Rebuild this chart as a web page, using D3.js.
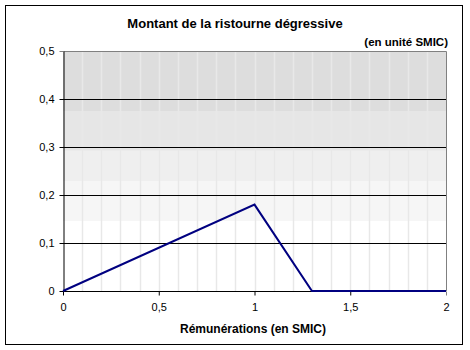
<!DOCTYPE html>
<html>
<head>
    <meta charset="utf-8">
    <script src="https://d3js.org/d3.v7.min.js"></script>
    <style type="text/css">
        body { margin: 0; background: #fff; }
        svg { display: block; font-family: "Liberation Sans", Arial, sans-serif; }
        .tick text { font-size: 11px; fill: #000; }
    </style>
</head>
<body>
    <script type="text/javascript">

        // données : rémunération (en SMIC) et ristourne (en unité SMIC)
        var remunerations = [0, 1, 1.3, 2];
        var ristourne = [0, 0.18, 0, 0];

        var xTicks = [0, 0.5, 1, 1.5, 2];
        var yTicks = [0, 0.1, 0.2, 0.3, 0.4, 0.5];
        var xGrid = d3.range(1, 20).map(function(i) { return i / 10; });

        // bandes de fond (dégradé approximé)
        var bandTops = [0.5, 0.375, 0.292, 0.229, 0.146];
        var bandBottoms = [0.375, 0.292, 0.229, 0.146, 0];
        var bandColors = ["#dddddd", "#e6e6e6", "#efefef", "#f6f6f6", "#ffffff"];

        var w = 470, h = 350;
        var margin = { top: 51, right: 24, bottom: 59, left: 63 };
        var iw = w - margin.left - margin.right;
        var ih = h - margin.top - margin.bottom;

        var svg = d3.select("body")
            .append("svg")
            .attr("width", w)
            .attr("height", h);

        // cadre extérieur
        svg.append("rect")
            .attr("x", 5.5).attr("y", 5.5)
            .attr("width", 457).attr("height", 339)
            .attr("fill", "none")
            .attr("stroke", "#000")
            .attr("stroke-width", 1);

        var g = svg.append("g")
            .attr("transform", "translate(" + margin.left + "," + margin.top + ")");

        var xScale = d3.scaleLinear().domain([0, 2]).range([0, iw]);
        var yScale = d3.scaleLinear().domain([0, 0.5]).range([ih, 0]);

        // bandes
        g.selectAll("rect.band")
            .data(bandTops)
            .enter()
            .append("rect")
            .attr("class", "band")
            .attr("x", 0)
            .attr("y", function(d) { return yScale(d); })
            .attr("width", iw)
            .attr("height", function(d, i) { return yScale(bandBottoms[i]) - yScale(d); })
            .attr("fill", function(d, i) { return bandColors[i]; });

        // grille verticale claire
        g.selectAll("line.vgrid")
            .data(xGrid)
            .enter()
            .append("line")
            .attr("class", "vgrid")
            .attr("x1", function(d) { return Math.round(xScale(d)) + 0.5; })
            .attr("x2", function(d) { return Math.round(xScale(d)) + 0.5; })
            .attr("y1", 0)
            .attr("y2", ih)
            .attr("stroke", "#e8e8e8")
            .attr("stroke-width", 1.5);

        // grille horizontale noire
        g.selectAll("line.hgrid")
            .data(yTicks.slice(1, 5))
            .enter()
            .append("line")
            .attr("class", "hgrid")
            .attr("x1", 0)
            .attr("x2", iw)
            .attr("y1", function(d) { return Math.round(yScale(d)) + 0.5; })
            .attr("y2", function(d) { return Math.round(yScale(d)) + 0.5; })
            .attr("stroke", "#000")
            .attr("stroke-width", 1);

        // bordure haut / droite grise
        g.append("path")
            .attr("d", "M0," + (yScale(0.5) + 0.5) + "H" + (xScale(2) + 0.5) + "V" + yScale(0))
            .attr("fill", "none")
            .attr("stroke", "#808080");

        var fmt = function(d) { return String(d).replace(".", ","); };

        // axes
        var xAxis = g.append("g")
            .attr("transform", "translate(0," + (ih + 0.5) + ")")
            .call(d3.axisBottom(xScale).tickValues(xTicks).tickFormat(fmt).tickSizeInner(4).tickSizeOuter(0).tickPadding(8));

        var yAxis = g.append("g")
            .attr("transform", "translate(0.5,0)")
            .call(d3.axisLeft(yScale).tickValues(yTicks).tickFormat(fmt).tickSizeInner(4).tickSizeOuter(0).tickPadding(5));

        [xAxis, yAxis].forEach(function(a) {
            a.selectAll("path, line").attr("stroke", "#000");
            a.selectAll("text").attr("font-family", "Liberation Sans, Arial, sans-serif");
        });
        xAxis.select(".domain").remove();
        xAxis.append("line").attr("x1", 0).attr("x2", iw).attr("stroke", "#000");
        xAxis.selectAll(".tick").filter(function(d) { return d === 2; }).select("line").attr("stroke", "#808080");
        yAxis.selectAll(".tick").filter(function(d) { return d === 0.5; }).select("line").attr("stroke", "#808080");

        // courbe
        var line = d3.line()
            .x(function(d, i) { return xScale(remunerations[i]); })
            .y(function(d) { return yScale(d); });

        g.append("path")
            .datum(ristourne)
            .attr("d", line)
            .attr("fill", "none")
            .attr("stroke", "#000080")
            .attr("stroke-width", 2);

        // titres
        svg.append("text")
            .attr("x", 235).attr("y", 28)
            .attr("text-anchor", "middle")
            .attr("font-size", "13px")
            .attr("font-weight", "bold")
            .text("Montant de la ristourne dégressive");

        svg.append("text")
            .attr("x", 448).attr("y", 46)
            .attr("text-anchor", "end")
            .attr("font-size", "11.5px")
            .attr("font-weight", "bold")
            .text("(en unité SMIC)");

        svg.append("text")
            .attr("x", 253).attr("y", 333)
            .attr("text-anchor", "middle")
            .attr("font-size", "12px")
            .attr("font-weight", "bold")
            .text("Rémunérations (en SMIC)");

    </script>
</body>
</html>
